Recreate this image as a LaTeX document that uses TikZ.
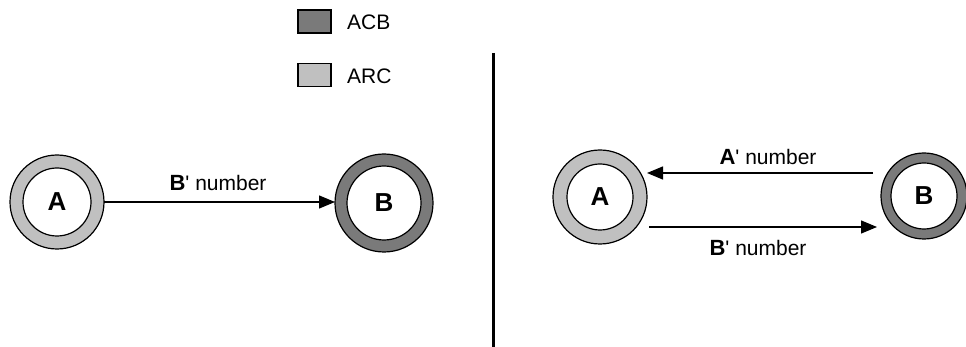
\documentclass[tikz,border=0pt]{standalone}
\usepackage{fontspec}
\setmainfont{Liberation Sans}
\usetikzlibrary{arrows.meta,calc}
\definecolor{acbgray}{RGB}{122,122,122}
\definecolor{arcgray}{RGB}{192,192,192}
\newcommand{\primelabel}[1]{{\fontsize{22}{24}\selectfont\bfseries #1}{\fontsize{21}{24}\selectfont\textquotesingle\ number}}
\begin{document}
\begin{tikzpicture}[x=1pt,y=-1pt,
  ring/.style n args={3}{circle, draw=black, line width=1.2pt, fill=#1,
    minimum size=#2, inner sep=0pt, outer sep=0pt,
    font=\fontsize{26}{28}\selectfont\bfseries,
    path picture={\draw[line width=1.2pt, fill=white]
      (path picture bounding box.center) circle (#3);}},
  arcnode/.style 2 args={ring={arcgray}{#1}{#2}},
  acbnode/.style 2 args={ring={acbgray}{#1}{#2}},
  link/.style={line width=1.3pt, -{Triangle[length=16pt,width=13pt]}},
  swatch/.style={draw=black, line width=1.3pt, minimum width=33pt,
    minimum height=23pt, inner sep=0pt},
  legendtext/.style={anchor=west, inner sep=0pt, font=\fontsize{21}{24}\selectfont},
  edgelabel/.style={inner sep=0pt}]
  \useasboundingbox (0,0) rectangle (966,347);

  % legend
  \node[swatch, fill=acbgray] (kacb) at (314.5,21.5) {};
  \node[legendtext] (tacb) at (347,22) {ACB};
  \node[swatch, fill=arcgray] (karc) at (314.5,75) {};
  \node[legendtext] (tarc) at (347,76) {ARC};

  % divider
  \coordinate (dtop) at (493,53);
  \coordinate (dbot) at (493,347);
  \draw[line width=3pt] (dtop) -- (dbot);

  % left: one-way
  \node[arcnode={94pt}{34pt}] (A1) at (57,202) {A};
  \node[acbnode={98pt}{37pt}] (B1) at (384,203) {B};
  \draw[link] (A1.east) -- ($(B1.west)+(0,-1)$);
  \node[edgelabel] (l1) at (218,183) {\primelabel{B}};

  % right: two-way
  \node[arcnode={94pt}{33pt}] (A2) at (600,197) {A};
  \node[acbnode={86pt}{33pt}] (B2) at (924,196) {B};
  \draw[link] ($(B2.west)+(-8,-23)$) -- ($(A2.east)+(0,-24)$);
  \draw[link] ($(A2.east)+(2,30)$) -- ($(B2.west)+(-4,31)$);
  \node[edgelabel] (l2) at (768,157) {\primelabel{A}};
  \node[edgelabel] (l3) at (758,248) {\primelabel{B}};
\end{tikzpicture}
\end{document}
